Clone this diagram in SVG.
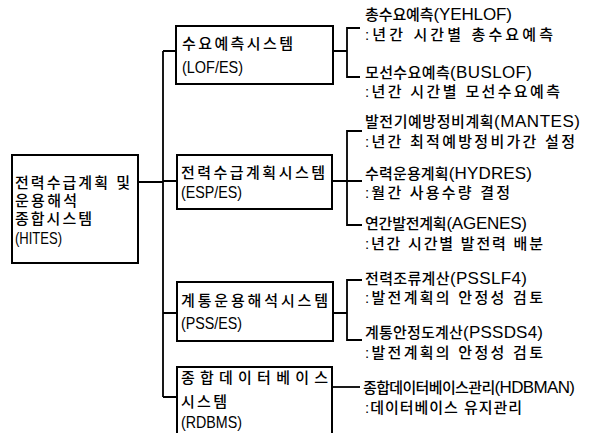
<svg xmlns="http://www.w3.org/2000/svg" width="608" height="433" viewBox="0 0 608 433">
<style>
text{font-family:"Liberation Sans","Noto Sans CJK KR",sans-serif;font-size:15px;fill:#000;font-weight:500}
.l{font-size:17px}
.box{fill:#fff;stroke:#000;stroke-width:2}
.ln{fill:none;stroke:#000;stroke-width:1.8}
</style>
<rect width="608" height="433" fill="#fff"/>
<g id="connectors">
<path class="ln" d="M138,182 H163 M163,51 V397 M163,51 H176 M163,181 H177 M163,313 H177 M163,397 H177"/>
<path class="ln" d="M333,51 H347 M360,28 H347 V77 H360"/>
<path class="ln" d="M332,181 H362 M362,131 H347 V225 H362"/>
<path class="ln" d="M333,313 H347 M362,280 H347 V340 H362"/>
<path class="ln" d="M332,387 H360"/>
</g>
<g id="root">
<rect class="box" x="12" y="155" width="126" height="108"/>
<text x="15" y="188" textLength="115">전력수급계획 및</text>
<text x="15" y="206" textLength="62">운용해석</text>
<text x="15" y="224" textLength="77">종합시스템</text>
<text class="l" x="15" y="244" textLength="47" lengthAdjust="spacingAndGlyphs">(HITES)</text>
</g>
<g id="lof">
<rect class="box" x="176" y="26" width="157" height="58"/>
<text x="182" y="49" textLength="111">수요예측시스템</text>
<text class="l" x="182" y="73" textLength="61" lengthAdjust="spacingAndGlyphs">(LOF/ES)</text>
</g>
<g id="esp">
<rect class="box" x="177" y="155" width="155" height="54"/>
<text x="181" y="178" textLength="144">전력수급계획시스템</text>
<text class="l" x="181" y="198" textLength="61" lengthAdjust="spacingAndGlyphs">(ESP/ES)</text>
</g>
<g id="pss">
<rect class="box" x="177" y="282" width="156" height="59"/>
<text x="181" y="306" textLength="147">계통운용해석시스템</text>
<text class="l" x="181" y="329" textLength="61" lengthAdjust="spacingAndGlyphs">(PSS/ES)</text>
</g>
<g id="rdbms">
<rect class="box" x="177" y="367" width="155" height="80"/>
<text x="181" y="383" textLength="147">종합데이터베이스</text>
<text x="181" y="407" textLength="46">시스템</text>
<text class="l" x="181" y="428" textLength="61" lengthAdjust="spacingAndGlyphs">(RDBMS)</text>
</g>
<g id="yehlof">
<text x="365" y="20" textLength="147">총수요예측<tspan class="l">(YEHLOF)</tspan></text>
<text x="365" y="40" textLength="188">:년간 시간별 총수요예측</text>
</g>
<g id="buslof">
<text x="365" y="78" textLength="167">모선수요예측<tspan class="l">(BUSLOF)</tspan></text>
<text x="365" y="97" textLength="195">:년간 시간별 모선수요예측</text>
</g>
<g id="mantes">
<text x="365" y="127" textLength="215">발전기예방정비계획<tspan class="l">(MANTES)</tspan></text>
<text x="365" y="147" textLength="210">:년간 최적예방정비가간 설정</text>
</g>
<g id="hydres">
<text x="365" y="179" textLength="167">수력운용계획<tspan class="l">(HYDRES)</tspan></text>
<text x="365" y="198" textLength="145">:월간 사용수량 결정</text>
</g>
<g id="agenes">
<text x="365" y="229" textLength="162">연간발전계획<tspan class="l">(AGENES)</tspan></text>
<text x="365" y="249" textLength="178">:년간 시간별 발전력 배분</text>
</g>
<g id="psslf4">
<text x="365" y="284" textLength="162">전력조류계산<tspan class="l">(PSSLF4)</tspan></text>
<text x="365" y="303" textLength="178">:발전계획의 안정성 검토</text>
</g>
<g id="pssds4">
<text x="365" y="338" textLength="178">계통안정도계산<tspan class="l">(PSSDS4)</tspan></text>
<text x="365" y="358" textLength="178">:발전계획의 안정성 검토</text>
</g>
<g id="hdbman">
<text x="363" y="393" textLength="212">종합데이터베이스관리<tspan class="l">(HDBMAN)</tspan></text>
<text x="365" y="413" textLength="157">:데이터베이스 유지관리</text>
</g>
</svg>
